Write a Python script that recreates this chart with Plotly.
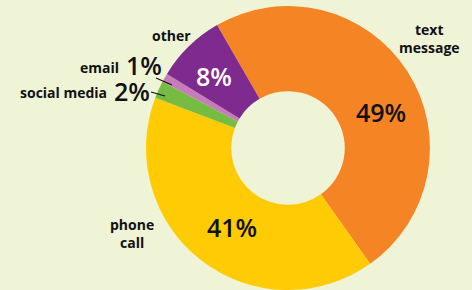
import plotly.graph_objects as go

categories = ["text message", "phone call", "social media", "email", "other"]
values = [49, 41, 2, 1, 8]
colors = ["#F58524", "#FFCB05", "#76BC43", "#C77CBA", "#7F2A8E"]
label_text = ["text<br>message", "phone<br>call", "social media", "email", "other"]

W, H = 472, 290
BG = "#EFF4D7"
FONT = "Open Sans"

fig = go.Figure(go.Pie(
    labels=categories,
    values=values,
    marker=dict(colors=colors, line=dict(width=0)),
    hole=0.40,
    sort=False,
    direction="clockwise",
    rotation=-30,
    textinfo="none",
    hoverinfo="label+value",
    showlegend=False,
    domain=dict(x=[146 / W, 430 / W], y=[0.0, 0.979]),
))

def px(x, y):
    return x / W, 1 - y / H

anns = []
def add(text, x, y, size, color="#111111", weight=700, xanchor="center"):
    xx, yy = px(x, y)
    anns.append(dict(text=text, x=xx, y=yy, xref="paper", yref="paper",
                     showarrow=False, xanchor=xanchor, yanchor="middle",
                     font=dict(family=FONT, size=size, color=color, weight=weight)))

pct = {c: f"{v}%" for c, v in zip(categories, values)}
# category labels
add(label_text[4], 171, 35, 14)
add(label_text[0], 397, 38, 14, xanchor="left")
add(label_text[1], 156, 233, 14, xanchor="right")
add(label_text[3], 121, 67, 14, xanchor="right")
add(label_text[2], 109, 93, 14, xanchor="right")
# percentages
add(pct["email"], 124, 65, 25, weight=600, xanchor="left")
add(pct["social media"], 112, 91, 25, weight=600, xanchor="left")
add(pct["other"], 214, 76, 25, color="#FFFFFF", weight=600)
add(pct["text message"], 381, 112, 25, weight=600)
add(pct["phone call"], 232, 227, 25, weight=600)

# leader lines
shapes = []
for (x0, y0, x1, y1) in [(156, 78, 172, 85), (151, 92, 165, 96)]:
    a0, b0 = px(x0, y0)
    a1, b1 = px(x1, y1)
    shapes.append(dict(type="line", xref="paper", yref="paper",
                       x0=a0, y0=b0, x1=a1, y1=b1,
                       line=dict(color="#111111", width=1.2)))

fig.update_layout(
    width=W, height=H,
    margin=dict(l=0, r=0, t=0, b=0),
    paper_bgcolor=BG, plot_bgcolor=BG,
    annotations=anns,
    shapes=shapes,
)

fig.write_html(
    "out.html",
    config={"displayModeBar": False},
    post_script="document.body.style.margin='0';document.body.style.padding='0';"
                "document.body.style.overflow='hidden';window.scrollTo(0,0);",
)
